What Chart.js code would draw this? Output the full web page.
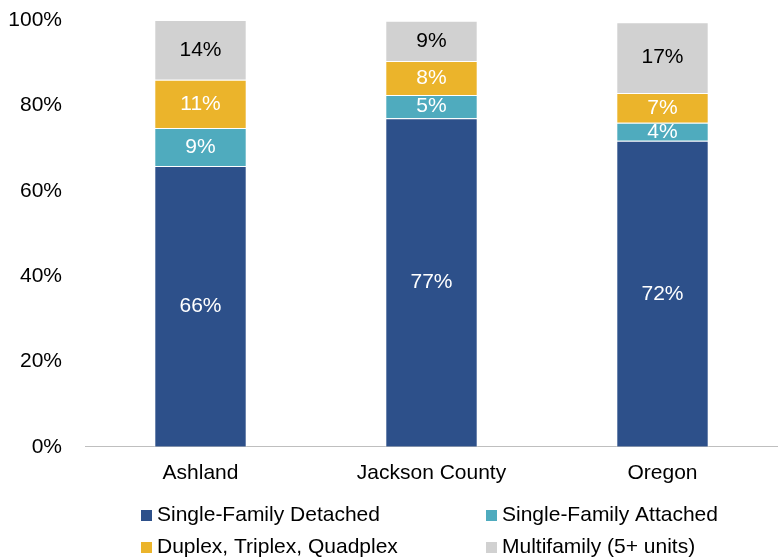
<!DOCTYPE html>
<html>
<head>
<meta charset="utf-8">
<script src="https://cdn.jsdelivr.net/npm/chart.js@4"></script>
<style>
  html, body { margin: 0; padding: 0; background: #fff; }
  #wrap { width: 778px; height: 559px; }
</style>
</head>
<body>
<div id="wrap"><canvas id="HousingChart"></canvas></div>
<script>
var places = ['Ashland', 'Jackson County', 'Oregon'];
var sfDetached = [65.8, 77.0, 71.7];
var sfAttached = [8.9, 5.4, 4.2];
var duplexPlex = [11.3, 8.0, 7.0];
var multifamily = [14.0, 9.4, 16.6];
var yTicks = [0, 20, 40, 60, 80, 100];

var FONT = "21px 'Liberation Sans', Arial, sans-serif";
Chart.defaults.font.family = "'Liberation Sans', Arial, sans-serif";
Chart.defaults.font.size = 21;
Chart.defaults.color = '#000';

// labels in the middle of each segment
var segmentLabels = {
    id: 'segmentLabels',
    afterDatasetsDraw: function (chart) {
        var ctx = chart.ctx;
        ctx.save();
        ctx.font = FONT;
        ctx.textAlign = 'center';
        ctx.textBaseline = 'middle';
        chart.data.datasets.forEach(function (ds, i) {
            chart.getDatasetMeta(i).data.forEach(function (bar, j) {
                var mid = (bar.y + bar.base) / 2;
                ctx.fillStyle = ds.labelColor;
                ctx.fillText(Math.round(ds.data[j]) + '%', bar.x, mid);
            });
        });
        ctx.restore();
    }
};

// two column legend like the excel one
var gridLegend = {
    id: 'gridLegend',
    afterDraw: function (chart) {
        var ctx = chart.ctx;
        var cols = [141, 486];
        var rows = [515, 547];
        ctx.save();
        ctx.font = FONT;
        ctx.textBaseline = 'middle';
        ctx.textAlign = 'left';
        chart.data.datasets.forEach(function (ds, i) {
            var x = cols[i % 2], y = rows[Math.floor(i / 2)];
            ctx.fillStyle = ds.backgroundColor;
            ctx.fillRect(x, y - 5, 11, 11);
            ctx.fillStyle = '#000';
            ctx.fillText(ds.label, x + 16, y);
        });
        ctx.restore();
    }
};

var myBarChart = new Chart($id('HousingChart'), {
    type: 'bar',
    data: {
        labels: places,
        datasets: [
            { label: 'Single-Family Detached', data: sfDetached, backgroundColor: '#2d508a', labelColor: '#fff' },
            { label: 'Single-Family Attached', data: sfAttached, backgroundColor: '#4fabbe', labelColor: '#fff' },
            { label: 'Duplex, Triplex, Quadplex', data: duplexPlex, backgroundColor: '#ebb42b', labelColor: '#fff' },
            { label: 'Multifamily (5+ units)', data: multifamily, backgroundColor: '#d1d1d1', labelColor: '#000' }
        ]
    },
    options: {
        responsive: true,
        maintainAspectRatio: false,
        animation: false,
        datasets: {
            bar: {
                barPercentage: 0.8,
                categoryPercentage: 0.5,
                borderColor: 'rgba(255,255,255,0.7)',
                borderWidth: 1
            }
        },
        layout: { padding: { top: 20, left: 8, right: 0, bottom: 59 } },
        plugins: {
            legend: { display: false },
            tooltip: { enabled: false }
        },
        scales: {
            x: {
                stacked: true,
                grid: { display: false, drawTicks: false },
                border: { color: '#bfbfbf', width: 1 },
                ticks: { padding: 14 }
            },
            y: {
                stacked: true,
                min: 0,
                max: 100,
                afterBuildTicks: function (axis) {
                    axis.ticks = yTicks.map(function (v) { return { value: v }; });
                },
                afterFit: function (axis) {
                    axis.width = 77;
                    axis.paddingTop = 0;
                    axis.paddingBottom = 0;
                },
                grid: { display: false, drawTicks: false },
                border: { display: false },
                ticks: {
                    padding: 23,
                    callback: function (v) { return v + '%'; }
                }
            }
        }
    },
    plugins: [segmentLabels, gridLegend]
});

function $id(id) { return document.getElementById(id); }
</script>
</body>
</html>
